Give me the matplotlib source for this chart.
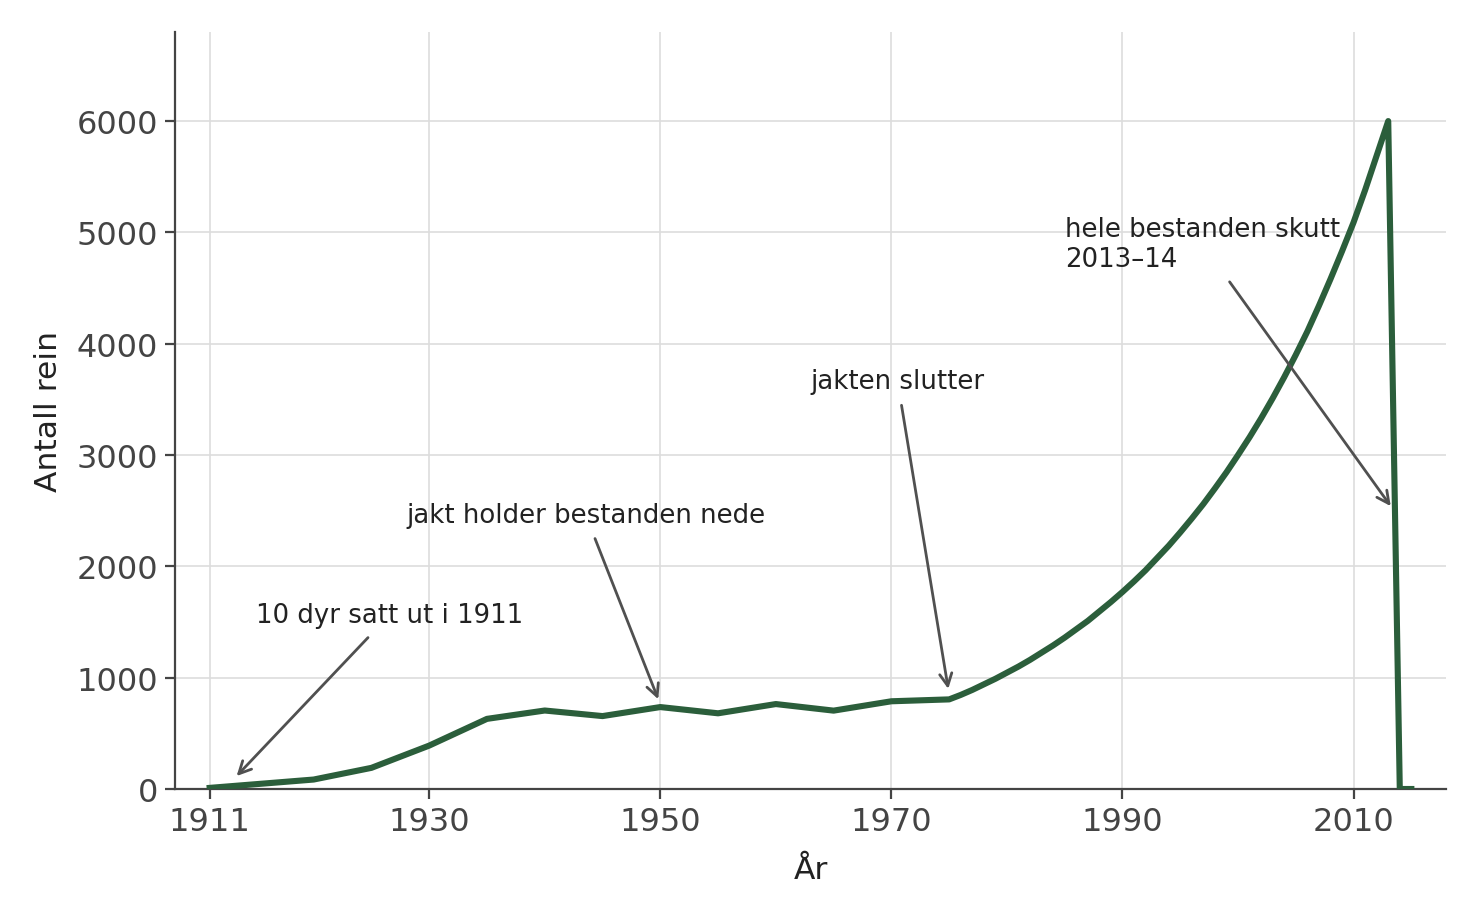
import matplotlib
matplotlib.use("Agg")
import matplotlib.pyplot as plt

years = [1911, 1920, 1925, 1930, 1935, 1940, 1945, 1950, 1955, 1960, 1965, 1970,
         1975, 1976, 1977, 1978, 1979, 1980, 1981, 1982, 1983, 1984, 1985, 1986,
         1987, 1988, 1989, 1990, 1991, 1992, 1993, 1994, 1995, 1996, 1997, 1998,
         1999, 2000, 2001, 2002, 2003, 2004, 2005, 2006, 2007, 2008, 2009, 2010,
         2011, 2012, 2013, 2014, 2015]
rein = [10, 85, 190, 390, 630, 705, 655, 736, 680, 763, 704, 788,
        805, 845, 890, 940, 990, 1045, 1100, 1160, 1225, 1290, 1360, 1435,
        1510, 1595, 1680, 1770, 1865, 1965, 2075, 2185, 2305, 2430, 2560, 2700,
        2845, 3000, 3160, 3330, 3510, 3700, 3900, 4110, 4340, 4580, 4830, 5090,
        5380, 5690, 6000, 0, 0]

xticks = [1911, 1930, 1950, 1970, 1990, 2010]
yticks = [0, 1000, 2000, 3000, 4000, 5000, 6000]

annotations = [
    ("10 dyr satt ut i 1911", (1913, 80), (1915, 1500)),
    ("jakt holder bestanden nede", (1950, 760), (1928, 2400)),
    ("jakten slutter", (1975, 850), (1963, 3600)),
    ("hele bestanden skutt\n2013–14", (2013.5, 2500), (1985, 4700)),
]

plt.rcParams['font.family'] = ['DejaVu Sans']

fig = plt.figure(figsize=(7.4, 4.6), dpi=200)
ax = fig.add_axes([175/1480, 1-790/920, (1446-175)/1480, (790-33)/920])

ax.plot(years, rein, color='#2b5e3b', lw=2.2, zorder=3)

ax.set_xlim(1908, 2018)
ax.set_ylim(0, 6800)
ax.set_xticks(xticks)
ax.set_yticks(yticks)

ax.grid(True, color='#dddddd', lw=0.6, zorder=0)
ax.set_axisbelow(True)

for s in ['top', 'right']:
    ax.spines[s].set_visible(False)
for s in ['left', 'bottom']:
    ax.spines[s].set_color('#444444')
    ax.spines[s].set_linewidth(0.8)

ax.tick_params(axis='both', direction='out', length=3.6, width=0.8,
               color='#444444', labelcolor='#444444', labelsize=11.5, pad=2.5)

ax.set_xlabel('År', fontsize=11.3, color='#222222', labelpad=6.5)
ax.set_ylabel('Antall rein', fontsize=11.3, color='#222222', labelpad=4.8)

for text, xy, xytext in annotations:
    ax.annotate(text, xy=xy, xytext=xytext, fontsize=9.35, color='#222222',
                ha='left', va='baseline',
                arrowprops=dict(arrowstyle='->', color='#505050', lw=1.0,
                                mutation_scale=11))

fig.savefig('out.png', dpi=200)
